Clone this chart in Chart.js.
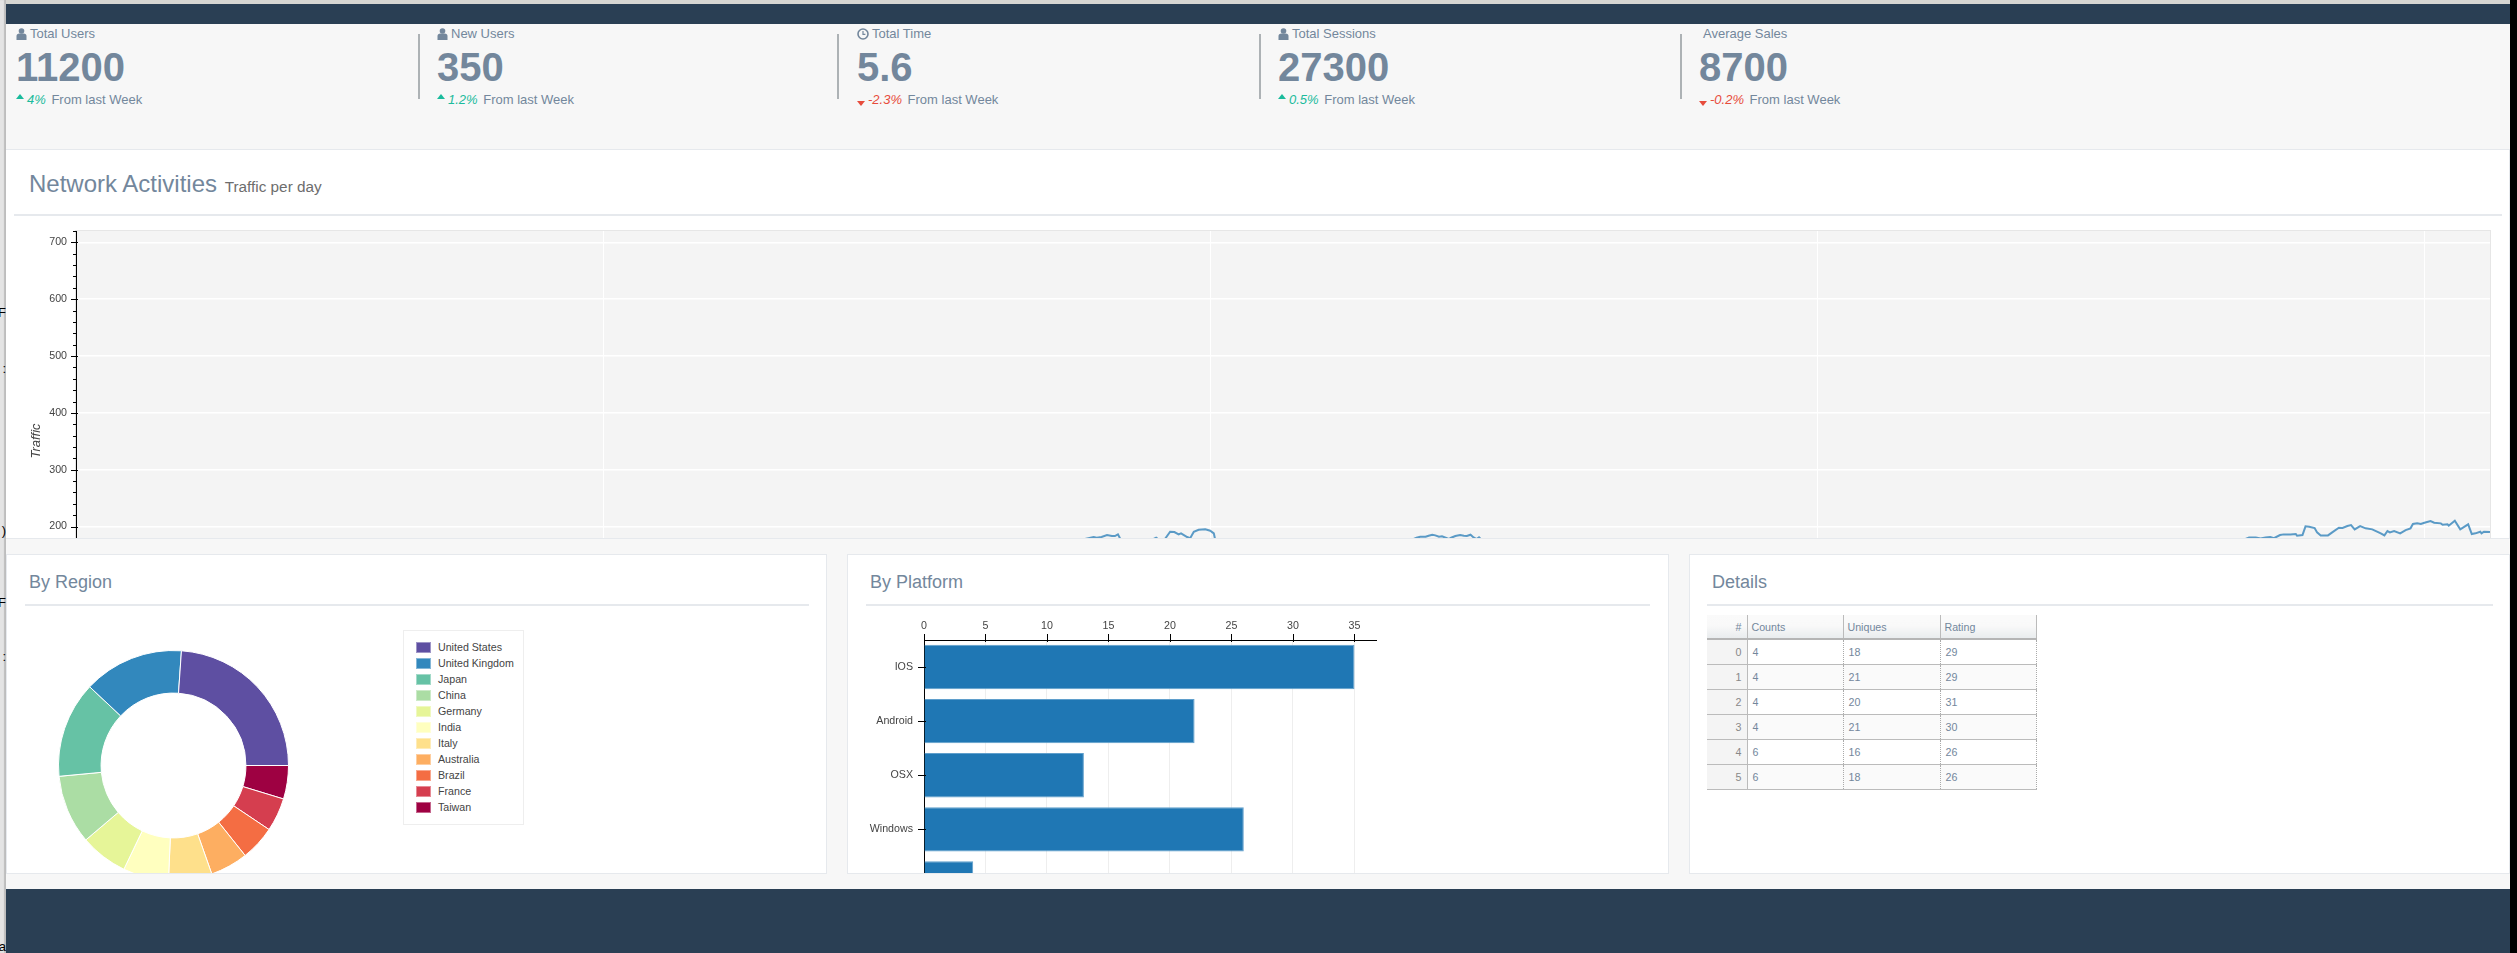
<!DOCTYPE html>
<html>
<head>
<meta charset="utf-8">
<title>Dashboard</title>
<script src="https://cdn.jsdelivr.net/npm/chart.js@4"></script>
<style>
  html, body { margin: 0; padding: 0; width: 2517px; height: 953px; overflow: hidden; background: #f7f7f7; font-family: "Liberation Sans", Arial, sans-serif; color: #73879C; }
  .abs, .tile > div, .tile-sep { position: absolute; }
  #topStrip { position: absolute; left: 0; top: 0; width: 2510px; height: 4px; background: #d6d6d2; }
  #leftStrip { position: absolute; left: 0; top: 0; width: 6px; height: 953px; background: #e4e4e4; border-right: 0; overflow: hidden; box-shadow: inset -2px 0 1px #bdbdbd; color: #000; font-size: 13px; }
  #leftStrip span { position: absolute; right: 0; white-space: nowrap; }
  #blackEdge { position: absolute; left: 2510px; top: 0; width: 7px; height: 953px; background: #000; }
  #navTop { position: absolute; left: 6px; top: 4px; width: 2504px; height: 20px; background: #2a3f54; }
  #navBottom { position: absolute; left: 6px; top: 889px; width: 2504px; height: 64px; background: #2a3f54; }
  .tile { position: absolute; top: 0; }
  .tile .lbl { left: 0; top: 25px; white-space: nowrap; font-size: 13px; line-height: 18px; }
  .tile .lbl svg { vertical-align: -2px; margin-right: 3px; }
  .tile .num { left: 0; top: 45px; font-size: 40px; font-weight: bold; line-height: 44px; }
  .tile .dlt { left: 0; top: 91px; white-space: nowrap; font-size: 13px; line-height: 18px; }
  .tile .dlt i { margin: 0 2px 0 1px; }
  .up { color: #1ABB9C; } .down { color: #E74C3C; }
  .caret { display: inline-block; width: 0; height: 0; border-left: 4px solid transparent; border-right: 4px solid transparent; margin-right: 2px; }
  .caret.u { border-bottom: 5px solid #1ABB9C; vertical-align: 5px; }
  .caret.d { border-top: 5px solid #E74C3C; vertical-align: -2px; }
  .tile-sep { top: 34px; width: 2px; height: 65px; background: #adb2b5; }
  .panel { position: absolute; background: #fff; border: 1px solid #e6e9ed; box-sizing: border-box; overflow: hidden; }
  #netPanel { left: 5px; top: 149px; width: 2505px; height: 390px; }
  #netTitle { position: absolute; left: 23px; top: 19px; font-size: 24px; line-height: 30px; white-space: nowrap; }
  #netTitle small { font-size: 15.3px; color: #6d6d6d; margin-left: 1px; }
  .rule { position: absolute; height: 2px; background: #e6e9ed; }
  .cardTitle { position: absolute; top: 15px; font-size: 18px; line-height: 24px; white-space: nowrap; }
  canvas { position: absolute; }
  #legendBox { position: absolute; left: 396px; top: 75px; width: 121px; height: 195px; box-sizing: border-box; border: 1px solid #eee; font-size: 10.67px; color: #444; }
  #legendBox div { position: absolute; left: 34px; line-height: 14px; white-space: nowrap; }
  #legendBox b { position: absolute; left: 12px; width: 15px; height: 11px; box-shadow: 0 0 0 1px rgba(255,255,255,.4) inset; }
  #detailsTable { position: absolute; left: 17px; top: 60px; width: 329px; border-collapse: collapse; table-layout: fixed; font-size: 10.67px; color: #73879C; }
  #detailsTable th { height: 24px; padding: 0 0 0 4px; font-weight: normal; text-align: left; background: linear-gradient(#fafafa, #f9f9f9 45%, #e9ecee); border-bottom: 2px solid #b5b5b5; border-right: 1px solid #bbb; box-sizing: border-box; }
  #detailsTable td { height: 25px; padding: 0 0 0 5px; border-bottom: 1px solid #bbb; border-right: 1px dotted #aaa; box-sizing: border-box; }
  #detailsTable tr:nth-child(odd) td { background: #fafafa; }
  #detailsTable td.idx { background: #f4f4f4 !important; text-align: right; padding: 0 5px 0 0; color: #888; border-right: 1px solid #bbb; }
  #detailsTable th.idx { text-align: right; padding: 0 5px 0 0; }
</style>
</head>
<body>
<div id="topStrip"></div>
<div id="navTop"></div>
<div id="tiles"></div>

<div class="panel" id="netPanel">
  <div id="netTitle">Network Activities <small>Traffic per day</small></div>
  <div class="rule" style="left:8px;top:64px;width:2488px"></div>
  <canvas id="trafficChart" width="2500" height="440" style="left:-6px;top:71px"></canvas>
</div>

<div class="panel" style="left:6px;top:554px;width:821px;height:320px">
  <div class="cardTitle" style="left:22px">By Region</div>
  <div class="rule" style="left:18px;top:49px;width:784px"></div>
  <canvas id="regionChart" width="231" height="231" style="left:51px;top:95px"></canvas>
  <div id="legendBox"></div>
</div>

<div class="panel" style="left:847px;top:554px;width:822px;height:320px">
  <div class="cardTitle" style="left:22px">By Platform</div>
  <div class="rule" style="left:18px;top:49px;width:784px"></div>
  <canvas id="platformChart" width="540" height="318" style="left:0;top:55px"></canvas>
</div>

<div class="panel" style="left:1689px;top:554px;width:821px;height:320px">
  <div class="cardTitle" style="left:22px">Details</div>
  <div class="rule" style="left:17px;top:49px;width:786px"></div>
  <table id="detailsTable"></table>
</div>

<div id="navBottom"></div>
<div id="leftStrip">
  <span style="top:305px">F</span><span style="top:361px">:</span><span style="top:523px">)</span>
  <span style="top:595px">F</span><span style="top:649px">:</span><span style="top:939px">va</span>
</div>
<div id="blackEdge"></div>

<script>
// top tiles
const tileLabels = ["Total Users", "New Users", "Total Time", "Total Sessions", "Average Sales"];
const tileIcons = ["user", "user", "clock", "user", ""];
const tileCounts = ["11200", "350", "5.6", "27300", "8700"];
const tileDeltas = ["4%", "1.2%", "-2.3%", "0.5%", "-0.2%"];
const tileX = [16, 437, 857, 1278, 1699];
const tileSeps = [418, 837, 1259, 1680];

// traffic line, most of it hangs below the fold of the panel
const trafficDays = [0, 40, 80, 120, 150, 165,
  167.7, 168.2, 169, 169.9, 170.7, 171.2, 171.7, 172.1, 172.8, 177, 178, 178.8,
  179.5, 180.3, 181, 181.7, 182.1, 183.1, 183.6, 184.2, 185, 186.1, 186.9, 187.5, 187.7,
  188.5, 200, 215, 220,
  220.9, 221.5, 222.4, 222.9, 223.5, 224, 224.6, 225.1, 225.7, 226.2,
  226.6, 227.3, 228.1, 228.7, 229.2, 229.8, 230.3, 230.8, 231.2, 231.7,
  240, 270, 300, 330, 350, 357,
  358.1, 359.2, 360, 360.8, 361.6, 362.2, 363.2, 363.8, 364.9, 365.8, 366, 366.9, 367.4, 368,
  368.9, 369.3, 369.9, 371.1, 371.8, 372.9, 373.5, 374.3, 374.9, 375.5, 376.4, 377.3, 378.4,
  379.8, 380.4, 380.9, 381.3, 382, 383, 383.9, 384.7, 385.1, 385.8, 386.4, 387, 388, 388.6,
  389.7, 390, 390.8, 391, 392, 392.9, 394.2, 394.8, 395.4, 396.2, 396.4, 396.8, 397.8];
const trafficValues = [95, 110, 125, 140, 160, 175,
  181.5, 180.3, 181.5, 185, 183.3, 183.3, 186.2, 178, 174, 175, 180.3, 174,
  179, 190.9, 190.3, 186.2, 188, 181.5, 179.5, 190.9, 194.4, 195, 192.7, 188, 178,
  175, 165, 170, 176,
  180.3, 182.1, 182.1, 183.9, 185.6, 184.5, 182.1, 182.7, 180.3, 178,
  180.3, 183.3, 185, 183.9, 183.3, 185.6, 180.9, 178, 180.9, 176,
  168, 155, 150, 160, 172, 176,
  180.7, 180.7, 179, 180.7, 181.5, 179.5, 185, 186.2, 186.2, 186.8, 183.8, 185, 200.3, 199.7,
  197.4, 189.7, 184.4, 184.4, 189.7, 198, 197.4, 200.9, 202.6, 195, 200.9, 196.8, 195,
  188, 184.4, 192.1, 189.7, 192.1, 188, 193.8, 196.8, 204.4, 205.6, 204.4, 206.7, 209.7, 206.7,
  205.6, 203.2, 203.8, 201.5, 210.3, 195, 203.8, 186.8, 188, 190.9, 188, 190.9, 190.3];
const trafficGridDays = [87, 187, 287, 387];

// region share in percent, in legend order
const regionLabels = ["United States", "United Kingdom", "Japan", "China", "Germany", "India", "Italy", "Australia", "Brazil", "France", "Taiwan"];
const regionValues = [23.9, 14.1, 13.5, 9.7, 6.7, 6.4, 6.1, 5.3, 4.9, 4.7, 4.7];
const regionColors = ["#5e4fa2", "#3288bd", "#66c2a5", "#abdda4", "#e6f598", "#ffffbf", "#fee08b", "#fdae61", "#f46d43", "#d53e4f", "#9e0142"];

const platformLabels = ["IOS", "Android", "OSX", "Windows", "Linux"];
const platformValues = [35, 22, 13, 26, 4];
const platformTickValues = [0, 5, 10, 15, 20, 25, 30, 35];

const detailCounts = [4, 4, 4, 4, 6, 6];
const detailUniques = [18, 21, 20, 21, 16, 18];
const detailRating = [29, 29, 31, 30, 26, 26];

const userIcon = '<svg width="11" height="12" viewBox="0 0 11 12"><circle cx="5.5" cy="3" r="2.8" fill="#73879C"/><path d="M.5 12V8q0-2.6 3-2.6h4q3 0 3 2.6v4z" fill="#73879C"/></svg>';
const clockIcon = '<svg width="12" height="12" viewBox="0 0 12 12"><circle cx="6" cy="6" r="5" fill="none" stroke="#73879C" stroke-width="1.6"/><path d="M6 3v3.4h2.4" fill="none" stroke="#73879C" stroke-width="1.2"/></svg>';

let tilesHtml = "";
tileLabels.forEach((label, i) => {
  const icon = tileIcons[i] === "user" ? userIcon : tileIcons[i] === "clock" ? clockIcon : '<span style="display:inline-block;width:4px"></span>';
  const neg = tileDeltas[i].startsWith("-");
  tilesHtml += `<div class="tile" style="left:${tileX[i]}px">
    <div class="lbl">${icon}${label}</div>
    <div class="num">${tileCounts[i]}</div>
    <div class="dlt"><span class="caret ${neg ? "d" : "u"}"></span><i class="${neg ? "down" : "up"}">${tileDeltas[i]}</i> From last Week</div>
  </div>`;
});
tileSeps.forEach(x => { tilesHtml += `<div class="tile-sep" style="left:${x}px"></div>`; });
document.getElementById("tiles").innerHTML = tilesHtml;

// legend box
let legendHtml = "";
regionLabels.forEach((label, i) => {
  legendHtml += `<b style="top:${11 + i * 16}px;background:${regionColors[i]}"></b><div style="top:${9 + i * 16}px">${label}</div>`;
});
document.getElementById("legendBox").innerHTML = legendHtml;

// details table
let tableHtml = '<colgroup><col style="width:40px"><col style="width:96px"><col style="width:97px"><col style="width:96px"></colgroup>';
tableHtml += '<tr><th class="idx">#</th><th>Counts</th><th>Uniques</th><th>Rating</th></tr>';
detailCounts.forEach((c, i) => {
  tableHtml += `<tr><td class="idx">${i}</td><td>${c}</td><td>${detailUniques[i]}</td><td>${detailRating[i]}</td></tr>`;
});
document.getElementById("detailsTable").innerHTML = tableHtml;

Chart.defaults.font.family = '"Liberation Sans", Arial, sans-serif';
Chart.defaults.font.size = 10.67;
Chart.defaults.color = "#444";
Chart.defaults.animation = false;
Chart.defaults.responsive = false;
Chart.defaults.plugins.legend.display = false;
Chart.defaults.plugins.tooltip.enabled = false;

// traffic
const trafficFrame = {
  id: "trafficFrame",
  beforeDraw(chart) {
    const a = chart.chartArea, ctx = chart.ctx;
    ctx.save();
    ctx.fillStyle = "#f4f4f4";
    ctx.fillRect(a.left, a.top, a.width, a.height);
    ctx.strokeStyle = "#e6e6e6";
    ctx.strokeRect(a.left - 0.5, a.top - 0.5, a.width + 1, a.height + 1);
    ctx.restore();
  },
  afterDraw(chart) {
    const y = chart.scales.y, ctx = chart.ctx;
    ctx.save();
    ctx.strokeStyle = "#000";
    ctx.beginPath();
    y.ticks.forEach(t => {
      if (t.value % 20 !== 0) return;
      const major = t.value % 100 === 0;
      const py = Math.round(y.getPixelForValue(t.value)) + 0.5;
      ctx.moveTo(y.right - (major ? 5 : 3), py);
      ctx.lineTo(y.right + (major ? 2 : 0), py);
    });
    ctx.stroke();
    ctx.restore();
  }
};

new Chart(document.getElementById("trafficChart"), {
  type: "line",
  data: {
    datasets: [{
      data: trafficDays.map((d, i) => ({ x: d, y: trafficValues[i] })),
      borderColor: "rgba(31,119,180,0.72)",
      borderWidth: 2,
      pointRadius: 0,
      tension: 0
    }]
  },
  options: {
    layout: { padding: { left: 29, top: 10, right: 10, bottom: 10 } },
    scales: {
      x: {
        type: "linear", min: 0, max: 397.8,
        afterBuildTicks: s => { s.ticks = trafficGridDays.map(v => ({ value: v })); },
        afterFit: s => { s.height = 0; s.paddingLeft = 0; s.paddingRight = 0; },
        ticks: { display: false },
        grid: { color: "#fff", drawTicks: false },
        border: { display: false }
      },
      y: {
        min: -19, max: 720,
        afterFit: s => { s.width = 47; s.paddingTop = 0; s.paddingBottom = 0; },
        title: { display: true, text: "Traffic", font: { style: "italic", size: 13 }, color: "#444", padding: 0 },
        ticks: {
          stepSize: 20, autoSkip: false, padding: 9, color: "#444",
          callback: v => (v % 100 === 0 && v >= 100 ? String(v) : "")
        },
        grid: { color: c => (c.tick && c.tick.value % 100 === 0 ? "#fff" : "rgba(0,0,0,0)"), drawTicks: false, lineWidth: 1.5 },
        border: { color: "#000", width: 1 }
      }
    }
  },
  plugins: [trafficFrame]
});

// region donut, counter clockwise from three o'clock so the arrays go in reversed
new Chart(document.getElementById("regionChart"), {
  type: "doughnut",
  data: {
    labels: regionLabels.slice().reverse(),
    datasets: [{
      data: regionValues.slice().reverse(),
      backgroundColor: regionColors.slice().reverse(),
      borderColor: "#fff",
      borderWidth: 1
    }]
  },
  options: { rotation: 90, cutout: "63%" }
});

// platform bars
const platformTicks = {
  id: "platformTicks",
  afterDraw(chart) {
    const { x, y } = chart.scales, ctx = chart.ctx;
    ctx.save();
    ctx.strokeStyle = "#000";
    ctx.beginPath();
    x.ticks.forEach(t => {
      const px = Math.round(x.getPixelForValue(t.value)) + 0.5;
      ctx.moveTo(px, x.bottom - 6);
      ctx.lineTo(px, x.bottom + 2);
    });
    y.ticks.forEach((t, i) => {
      const py = Math.round(y.getPixelForTick(i)) + 0.5;
      ctx.moveTo(y.right - 6, py);
      ctx.lineTo(y.right + 2, py);
    });
    ctx.stroke();
    ctx.restore();
  }
};

new Chart(document.getElementById("platformChart"), {
  type: "bar",
  data: {
    labels: platformLabels,
    datasets: [{
      data: platformValues,
      backgroundColor: "#1f77b4",
      borderColor: "#5f9fcc",
      borderWidth: 1,
      barPercentage: 0.82,
      categoryPercentage: 1
    }]
  },
  options: {
    indexAxis: "y",
    layout: { padding: { left: 0, top: 0, right: 12, bottom: 0 } },
    scales: {
      x: {
        position: "top", min: 0, max: 36.75,
        afterFit: s => { s.height = 30; },
        afterBuildTicks: s => { s.ticks = platformTickValues.map(v => ({ value: v })); },
        ticks: { padding: 8, color: "#444", maxRotation: 0 },
        grid: { color: "#eee", drawTicks: false },
        border: { color: "#000", width: 1 }
      },
      y: {
        afterFit: s => { s.width = 76; },
        ticks: { padding: 11, color: "#444", autoSkip: false },
        grid: { display: false, drawTicks: false },
        border: { color: "#000", width: 1 }
      }
    }
  },
  plugins: [platformTicks]
});
</script>
</body>
</html>
